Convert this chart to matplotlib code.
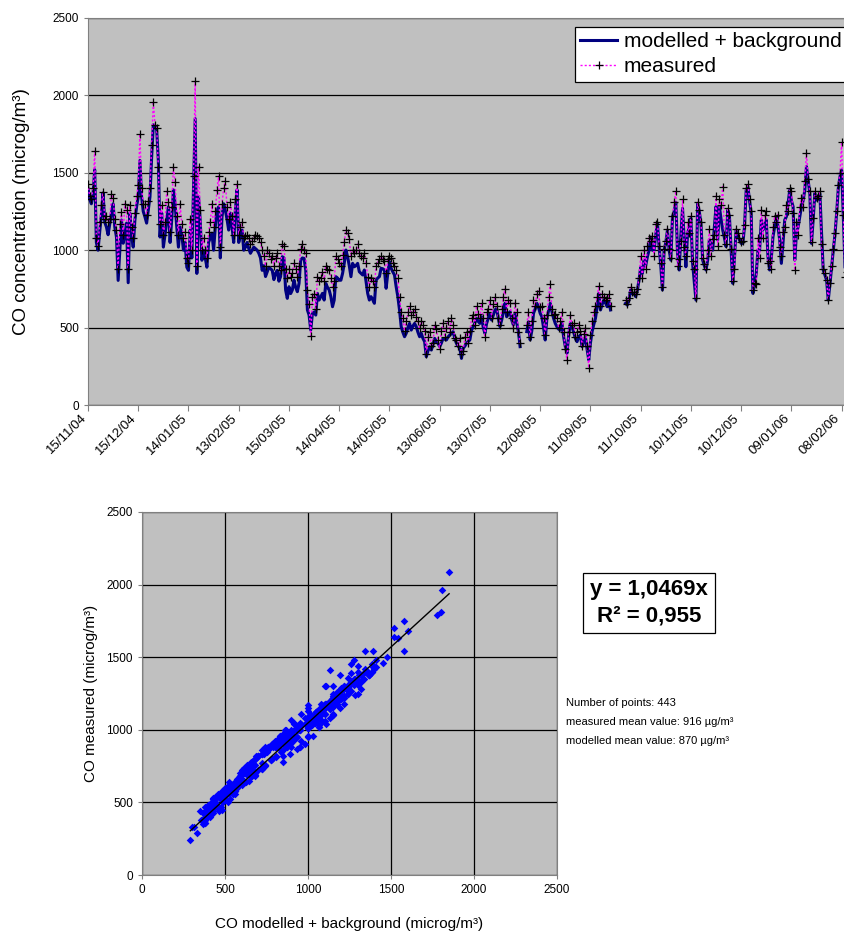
import numpy as np
import matplotlib
matplotlib.use("Agg")
import matplotlib.pyplot as plt
import matplotlib.dates as mdates
from datetime import date, timedelta

plt.rcParams['font.family'] = ['Liberation Sans', 'DejaVu Sans']

nan = np.nan
start_day = date(2004, 11, 15)
n_days_shown = 452

# daily CO, modelled + background (microg/m3), from 15/11/04
modelled = [
    1400, 1330, 1300, 1360, 1520, 1050, 1000, 1120, 1230, 1370,
    1180, 1150, 1100, 1170, 1240, 1300, 1150, 1085, 805, 1000,
    1195, 1045, 1100, 1175, 790, 1240, 1100, 1020, 1195, 1280,
    1345, 1580, 1345, 1250, 1215, 1175, 1260, 1345, 1600, 1810,
    1800, 1780, 1580, 1085, 1240, 1020, 1100, 1195, 1280, 1050,
    1200, 1390, 1300, 1150, 1020, 1150, 1100, 1000, 1050, 890,
    870, 1130, 950, 1410, 1850, 850, 1345, 1195, 935, 1000,
    950, 890, 1050, 1080, 1110, 1000, 1150, 1260, 1280, 950,
    1215, 1300, 1260, 1200, 1130, 1240, 1150, 1050, 1260, 1390,
    1050, 1100, 1130, 1000, 1020, 1050, 1010, 980, 1000, 1020,
    1010, 1000, 980, 950, 870, 900, 830, 860, 890, 880,
    870, 810, 850, 870, 800, 830, 958, 950, 743, 689,
    764, 720, 743, 806, 760, 732, 785, 936, 950, 947,
    872, 614, 581, 484, 592, 600, 581, 721, 678, 700,
    721, 678, 785, 760, 743, 700, 635, 678, 829, 820,
    806, 806, 850, 915, 1001, 958, 900, 829, 915, 893,
    900, 915, 861, 850, 840, 872, 800, 721, 678, 700,
    680, 657, 806, 820, 829, 883, 880, 872, 754, 850,
    926, 883, 860, 840, 764, 700, 614, 506, 470, 441,
    463, 500, 527, 484, 510, 527, 506, 470, 441, 463,
    430, 409, 312, 350, 377, 355, 390, 430, 410, 398,
    377, 400, 430, 425, 420, 440, 452, 460, 474, 430,
    398, 380, 366, 301, 366, 380, 398, 410, 420, 484,
    506, 530, 560, 540, 527, 570, 500, 463, 527, 560,
    592, 549, 580, 614, 624, 560, 506, 549, 600, 657,
    570, 590, 603, 549, 517, 592, 530, 474, 377, nan,
    nan, nan, 474, 538, 420, 480, 592, 620, 657, 630,
    592, 570, 500, 420, 560, 610, 657, 603, 560, 527,
    506, 490, 484, 527, 440, 377, 334, 450, 527, 506,
    470, 430, 409, 440, 452, 377, 410, 441, 360, 291,
    400, 474, 520, 560, 635, 721, 614, 650, 678, 660,
    635, 667, 614, nan, nan, nan, nan, nan, nan, nan,
    nan, 657, 645, 678, 743, 720, 721, 700, 740, 807,
    890, 850, 935, 900, 957, 1000, 1085, 1000, 1000, 1100,
    1175, 1023, 900, 743, 1000, 1050, 1130, 1000, 936, 1217,
    1250, 1310, 980, 872, 1100, 1270, 1066, 893, 1109, 1150,
    1206, 915, 800, 678, 1300, 1250, 1173, 936, 900, 872,
    936, 1066, 1030, 1000, 1150, 1282, 1066, 1282, 1200, 1130,
    1080, 1023, 1260, 1217, 1000, 786, 950, 1130, 1100, 1066,
    1044, 1044, 1152, 1388, 1410, 1320, 1238, 721, 780, 850,
    1000, 1000, 1195, 1130, 1160, 1195, 958, 872, 950, 1087,
    1150, 1217, 1152, 1066, 915, 1050, 1195, 1217, 1300, 1388,
    1320, 1282, 936, 1109, 1150, 1217, 1282, 1320, 1388, 1540,
    1450, 1367, 1044, 1200, 1367, 1324, 1340, 1367, 1109, 872,
    840, 807, 678, 780, 893, 1000, 1100, 1238, 1400, 1475,
    1518, 1217, 893, 850,
]

# daily CO, measured (microg/m3)
measured = [
    1430, 1350, 1330, 1400, 1640, 1080, 1030, 1180, 1290, 1375,
    1200, 1220, 1180, 1200, 1360, 1340, 1200, 1130, 880, 1170,
    1245, 1100, 1300, 1260, 880, 1290, 1150, 1080, 1240, 1350,
    1420, 1750, 1400, 1300, 1300, 1230, 1320, 1400, 1680, 1960,
    1810, 1790, 1540, 1170, 1290, 1100, 1180, 1380, 1310, 1120,
    1280, 1540, 1440, 1220, 1100, 1300, 1170, 1080, 1120, 950,
    920, 1200, 1000, 1480, 2090, 900, 1540, 1260, 1000, 1080,
    1000, 950, 1120, 1180, 1300, 1150, 1250, 1390, 1480, 1020,
    1300, 1400, 1450, 1280, 1200, 1310, 1220, 1100, 1330, 1430,
    1100, 1150, 1180, 1080, 1090, 1100, 1080, 1040, 1060, 1080,
    1100, 1090, 1080, 1050, 1000, 960, 900, 1000, 980, 940,
    960, 900, 950, 980, 900, 870, 1040, 1030, 880, 820,
    880, 830, 850, 920, 880, 830, 900, 1010, 1040, 1000,
    980, 740, 650, 445, 700, 720, 620, 830, 800, 820,
    860, 800, 900, 880, 870, 820, 760, 800, 960, 940,
    920, 900, 970, 1050, 1130, 1110, 1070, 960, 1000, 980,
    1000, 1040, 980, 960, 950, 980, 920, 830, 760, 820,
    800, 760, 900, 920, 940, 960, 940, 930, 850, 940,
    960, 950, 920, 900, 870, 820, 700, 600, 560, 480,
    540, 600, 640, 580, 600, 620, 570, 540, 500, 540,
    520, 480, 330, 440, 470, 380, 400, 520, 490, 420,
    360, 480, 530, 440, 500, 540, 470, 560, 520, 430,
    420, 380, 430, 330, 350, 440, 470, 400, 480, 560,
    580, 520, 640, 590, 560, 660, 560, 440, 600, 620,
    680, 560, 650, 700, 640, 560, 520, 620, 700, 750,
    600, 680, 660, 560, 500, 660, 600, 470, 400, nan,
    nan, nan, 520, 600, 440, 540, 680, 640, 720, 737,
    630, 640, 560, 450, 580, 700, 780, 620, 580, 590,
    560, 500, 540, 600, 470, 360, 290, 470, 580, 520,
    530, 440, 470, 520, 480, 380, 460, 500, 380, 240,
    450, 540, 600, 640, 700, 770, 640, 720, 700, 680,
    690, 720, 640, nan, nan, nan, nan, nan, nan, nan,
    nan, 680, 650, 690, 760, 730, 730, 720, 750, 820,
    960, 820, 1000, 880, 1030, 1080, 1060, 1090, 960, 1170,
    1180, 1030, 920, 760, 1010, 1060, 1140, 1010, 950, 1220,
    1310, 1380, 900, 940, 1060, 1330, 1020, 960, 1180, 1110,
    1220, 930, 880, 690, 1310, 1260, 1180, 950, 910, 880,
    1000, 1140, 960, 1070, 1100, 1350, 1030, 1330, 1290, 1410,
    1100, 1040, 1270, 1230, 1010, 800, 880, 1140, 1110, 1080,
    1050, 1060, 1160, 1400, 1430, 1330, 1250, 740, 790, 780,
    1080, 950, 1260, 1080, 1230, 1250, 920, 930, 880, 1150,
    1220, 1180, 1230, 1020, 960, 1120, 1150, 1290, 1250, 1400,
    1380, 1240, 870, 1180, 1100, 1280, 1340, 1280, 1450, 1630,
    1460, 1380, 1050, 1210, 1380, 1340, 1350, 1380, 1040, 880,
    850, 810, 680, 790, 900, 1010, 1110, 1250, 1420, 1500,
    1700, 1230, 830, 860,
]

trend_slope = 1.0469
eq_text = "y = 1,0469x\nR² = 0,955"
stats_text = ["Number of points: 443",
              "measured mean value: 916 µg/m³",
              "modelled mean value: 870 µg/m³"]

days = [start_day + timedelta(days=i) for i in range(len(modelled))]
mod = np.array(modelled, dtype=float)
meas = np.array(measured, dtype=float)

W, H = 845, 931
fig = plt.figure(figsize=(W / 100, H / 100), dpi=100)
grey = '#C0C0C0'

# ---- time series ----
ax = fig.add_axes([88 / W, 1 - 405 / H, (W - 88) / W, 387 / H])
ax.set_facecolor(grey)
ax.plot(days, mod, color='#000080', lw=2.2, label='modelled + background', zorder=3)
ax.plot(days, meas, color='#FF00FF', lw=1, ls=(0, (1.5, 1.5)), marker='+',
        mec='black', ms=5.5, mew=0.9, label='measured', zorder=4)
ax.set_ylim(0, 2500)
ax.set_yticks(range(0, 2501, 500))
x0 = mdates.date2num(start_day)
ax.set_xlim(x0, x0 + n_days_shown)
ticks = [start_day + timedelta(days=30 * k) for k in range(16)]
ax.set_xticks(ticks)
ax.set_xticklabels([])
# date labels drawn as texts so they can sit a little left of each tick
for t in ticks:
    ax.annotate(t.strftime('%d/%m/%y'), xy=(mdates.date2num(t), 0),
                xycoords=('data', 'axes fraction'), xytext=(-5.5, -5),
                textcoords='offset points', rotation=45, ha='right', va='top',
                rotation_mode='anchor', fontsize=9.5, annotation_clip=False)
ax.tick_params(axis='y', labelsize=8.5, length=3, color='#808080')
ax.tick_params(axis='x', length=4, color='#808080')
ax.grid(axis='y', color='black', lw=0.9)
ax.set_axisbelow(True)
for s in ax.spines.values():
    s.set_color('#808080')
ax.set_ylabel('CO concentration (microg/m³)', fontsize=13.5)
ax.yaxis.set_label_coords(-0.076, 0.5)
leg = ax.legend(loc='upper left', bbox_to_anchor=(0.643, 0.977), fontsize=15,
                frameon=True, fancybox=False, framealpha=1, edgecolor='black',
                handlelength=1.8, borderpad=0.25, labelspacing=0.3, handletextpad=0.3,
                borderaxespad=0)
leg.get_frame().set_linewidth(0.9)

# ---- scatter ----
ax2 = fig.add_axes([142 / W, 1 - 875 / H, 415 / W, 363 / H])
ax2.set_facecolor(grey)
ok = ~np.isnan(mod) & ~np.isnan(meas)
ax2.scatter(mod[ok], meas[ok], marker='D', s=15, color='#0000FF', lw=0, zorder=3)
xline = np.array([mod[ok].min(), mod[ok].max()])
ax2.plot(xline, trend_slope * xline, color='black', lw=1, zorder=4)
ax2.set_xlim(0, 2500)
ax2.set_ylim(0, 2500)
ax2.set_xticks(range(0, 2501, 500))
ax2.set_yticks(range(0, 2501, 500))
ax2.grid(color='black', lw=0.9)
ax2.set_axisbelow(True)
ax2.tick_params(labelsize=8.5, length=3, color='#808080')
for s in ax2.spines.values():
    s.set_color('#808080')
ax2.set_xlabel('CO modelled + background (microg/m³)', fontsize=11)
ax2.set_ylabel('CO measured (microg/m³)', fontsize=11)
ax2.xaxis.set_label_coords(0.5, -0.115)
ax2.yaxis.set_label_coords(-0.105, 0.5)

fig.text(649 / W, 1 - 603 / H, eq_text, ha='center', va='center', fontsize=16,
         fontweight='bold', linespacing=1.35,
         bbox=dict(boxstyle='square,pad=0.3', fc='white', ec='black', lw=0.9))
for i, line in enumerate(stats_text):
    fig.text(566 / W, 1 - (703 + 19 * i) / H, line, ha='left', va='center', fontsize=8)

fig.savefig('out.png', dpi=100)
